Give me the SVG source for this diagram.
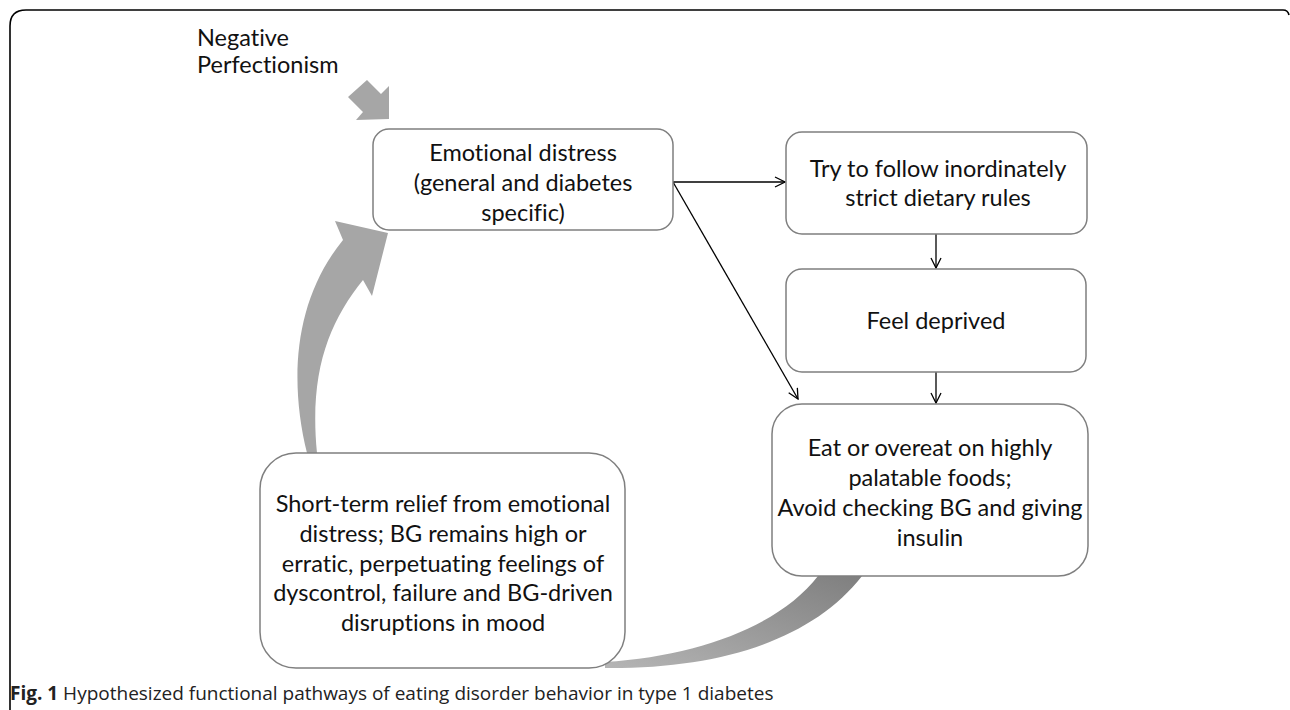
<svg xmlns="http://www.w3.org/2000/svg" width="1290" height="710" viewBox="0 0 1290 710">
<style>
.box{fill:#fff;stroke:#7f7f7f;stroke-width:1.5}
.t{font-family:Lato,"Noto Sans",sans-serif;font-size:23.5px;fill:#111;text-anchor:middle;font-variant-ligatures:none}
.ln{stroke:#000;stroke-width:1.3;fill:none;marker-end:url(#ah)}
.blk{fill:#a6a6a6}
.cap{font-family:"Open Sans","Liberation Sans",sans-serif;font-size:19px;fill:#222}
</style>
<defs>
<marker id="ah" viewBox="0 0 12 12" refX="11" refY="6" markerWidth="12" markerHeight="12" markerUnits="userSpaceOnUse" orient="auto">
<path d="M1 1 L11 6 L1 11" fill="none" stroke="#000" stroke-width="1.3"/>
</marker>
<linearGradient id="g1" x1="1" y1="0" x2="0" y2="1">
<stop offset="0" stop-color="#7f7f7f"/>
<stop offset="1" stop-color="#b5b5b5"/>
</linearGradient>
</defs>
<rect width="1290" height="710" fill="#fff"/>
<path d="M10 710 L10 26 Q10 10 26 10 L1283 10 Q1288 10 1289 15" fill="none" stroke="#000" stroke-width="1.6"/>

<g id="connectors">
<polygon class="blk" points="348,97 363,112 356,120 389,119 389,86 381,94 367,80"/>
<path class="blk" d="M307 453 C289 380 294 300 343 240 L335 221 L388 233 L372 296 L363 280 C329 322 309 372 317 453 Z"/>
<path fill="url(#g1)" d="M818 576 C780 625 700 656 605 662 L605 668 C720 669 812 640 862 576 Z"/>
<line class="ln" x1="673" y1="182" x2="785" y2="182"/>
<line class="ln" x1="673" y1="182" x2="798" y2="399"/>
<line class="ln" x1="936" y1="234" x2="936" y2="268"/>
<line class="ln" x1="936" y1="372" x2="936" y2="403"/>
</g>

<g id="label-perfectionism">
<text class="t" style="text-anchor:start" x="197" y="46">Negative</text>
<text class="t" style="text-anchor:start" x="197" y="73">Perfectionism</text>
</g>

<g id="node-distress">
<rect class="box" x="373" y="129" width="300" height="101" rx="16"/>
<text class="t" x="523" y="161">Emotional distress</text>
<text class="t" x="523" y="191">(general and diabetes</text>
<text class="t" x="523" y="221">specific)</text>
</g>

<g id="node-rules">
<rect class="box" x="786" y="132" width="301" height="102" rx="16"/>
<text class="t" x="938" y="177">Try to follow inordinately</text>
<text class="t" x="938" y="206">strict dietary rules</text>
</g>

<g id="node-deprived">
<rect class="box" x="786" y="269" width="300" height="103" rx="16"/>
<text class="t" x="936" y="329">Feel deprived</text>
</g>

<g id="node-eat">
<rect class="box" x="772" y="404" width="316" height="172" rx="30"/>
<text class="t" x="930" y="456">Eat or overeat on highly</text>
<text class="t" x="930" y="486">palatable foods;</text>
<text class="t" x="930" y="516">Avoid checking BG and giving</text>
<text class="t" x="930" y="546">insulin</text>
</g>

<g id="node-relief">
<rect class="box" x="260" y="453" width="365" height="215" rx="36"/>
<text class="t" x="443" y="512">Short-term relief from emotional</text>
<text class="t" x="443" y="542">distress; BG remains high or</text>
<text class="t" x="443" y="572">erratic, perpetuating feelings of</text>
<text class="t" x="443" y="601">dyscontrol, failure and BG-driven</text>
<text class="t" x="443" y="631">disruptions in mood</text>
</g>

<g id="caption">
<text class="cap" x="10" y="700"><tspan font-weight="bold">Fig. 1</tspan> Hypothesized functional pathways of eating disorder behavior in type 1 diabetes</text>
</g>
</svg>
